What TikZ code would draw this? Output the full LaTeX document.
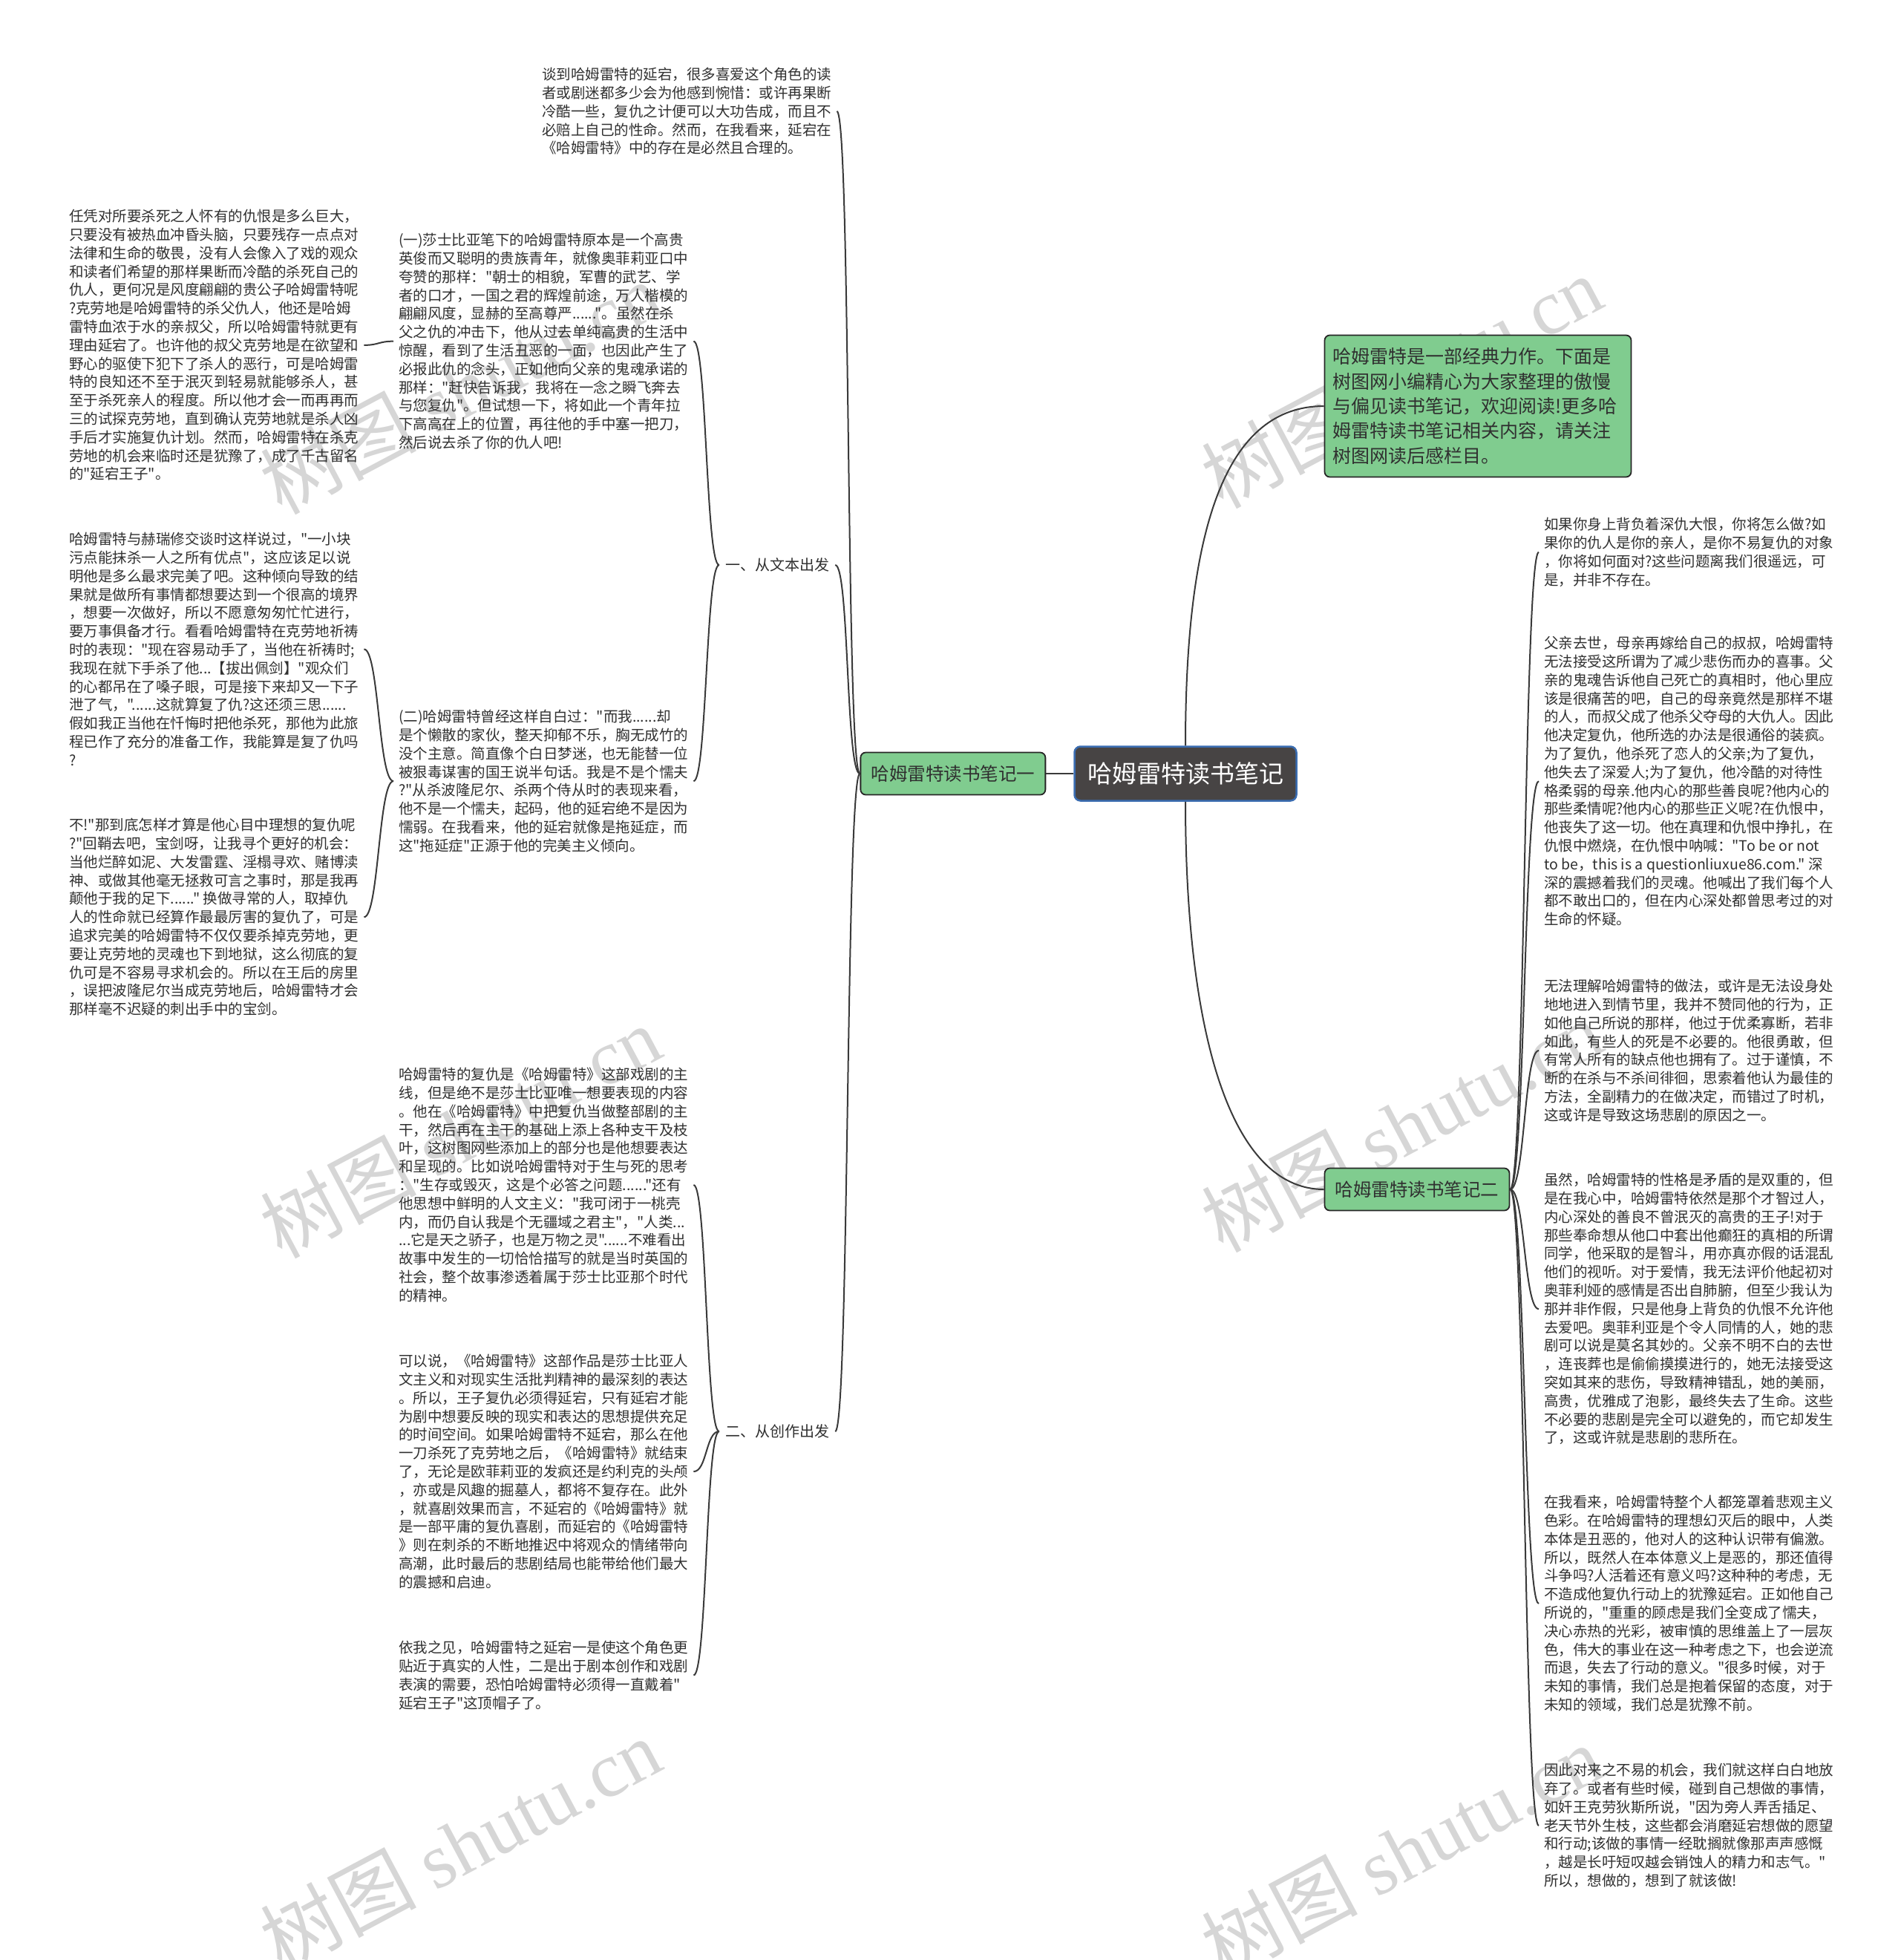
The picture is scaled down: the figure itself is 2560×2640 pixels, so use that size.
\documentclass[tikz,border=0pt]{standalone}
\usepackage{fontspec}
\setmainfont{Noto Sans CJK SC}
\newfontfamily\cjkfont{Noto Sans CJK SC}
\newfontfamily\wmserif{Liberation Serif}
\usetikzlibrary{positioning}

\definecolor{leafgreen}{RGB}{128,204,143}
\definecolor{rootgray}{RGB}{71,68,68}
\definecolor{rootblue}{RGB}{58,108,176}
\definecolor{inkgray}{RGB}{48,48,48}
\definecolor{linegray}{RGB}{58,58,58}
\definecolor{markgray}{RGB}{214,214,214}

\newcommand{\leaffont}{\cjkfont\fontsize{19.5pt}{24.8pt}\selectfont}

\begin{document}
\begin{tikzpicture}[x=1pt, y=-1pt,
  node distance=37pt,
  rootbox/.style={draw=rootblue, line width=2.5pt, fill=rootgray, rounded corners=8pt,
    text=white, minimum width=299pt, minimum height=73pt, font=\cjkfont\fontsize{33pt}{40pt}\selectfont},
  branch/.style={draw=black!85, line width=1.8pt, fill=leafgreen, rounded corners=7pt,
    text=inkgray, minimum width=249pt, minimum height=57pt, font=\cjkfont\fontsize{24.5pt}{30pt}\selectfont},
  introbox/.style={draw=black!85, line width=1.8pt, fill=leafgreen, rounded corners=7pt,
    text=inkgray, align=left, text width=391pt, inner xsep=11pt, minimum height=191pt,
    font=\cjkfont\fontsize{25pt}{33.3pt}\selectfont},
  leaf/.style={anchor=north west, align=left, inner xsep=7pt, inner ysep=0pt,
    text=inkgray, font=\leaffont},
  sublabel/.style={inner xsep=8pt, inner ysep=4pt, text=inkgray, font=\cjkfont\fontsize{20pt}{24pt}\selectfont},
  link/.style={draw=linegray, line width=2pt},
  wmark/.style={text=markgray, rotate=28, font=\cjkfont\fontsize{105pt}{110pt}\selectfont}
]
\useasboundingbox (0,0) rectangle (2560,2640);
\fill[white] (0,0) rectangle (2560,2640);

% Watermarks
\node[wmark] (wm1) at (620,522) {树图 {\wmserif shutu.cn}};
\node[wmark] (wm2) at (1888,514) {树图 {\wmserif shutu.cn}};
\node[wmark] (wm3) at (620,1524) {树图 {\wmserif shutu.cn}};
\node[wmark] (wm4) at (1888,1516) {树图 {\wmserif shutu.cn}};
\node[wmark] (wm5) at (620,2484) {树图 {\wmserif shutu.cn}};
\node[wmark] (wm6) at (1888,2493) {树图 {\wmserif shutu.cn}};

% Nodes
\node[rootbox] (root) at (1597,1042) {哈姆雷特读书笔记};
\node[branch, left=of root] (b1) {哈姆雷特读书笔记一};
\node[branch] (b2) at (1909,1602) {哈姆雷特读书笔记二};
\node[introbox] (intro) at (1991,547) {哈姆雷特是一部经典力作。下面是\\
树图网小编精心为大家整理的傲慢\\
与偏见读书笔记，欢迎阅读!更多哈\\
姆雷特读书笔记相关内容，请关注\\
树图网读后感栏目。};

\node[sublabel] (s1) at (1047,761) {一、从文本出发};
\node[sublabel] (s2) at (1047,1928) {二、从创作出发};

\node[leaf] (t0) at (723,91) {谈到哈姆雷特的延宕，很多喜爱这个角色的读\\
者或剧迷都多少会为他感到惋惜：或许再果断\\
冷酷一些，复仇之计便可以大功告成，而且不\\
必赔上自己的性命。然而，在我看来，延宕在\\
《哈姆雷特》中的存在是必然且合理的。};

\node[leaf] (m1) at (530,314) {(一)莎士比亚笔下的哈姆雷特原本是一个高贵\\
英俊而又聪明的贵族青年，就像奥菲莉亚口中\\
夸赞的那样："朝士的相貌，军曹的武艺、学\\
者的口才，一国之君的辉煌前途，万人楷模的\\
翩翩风度，显赫的至高尊严......"。虽然在杀\\
父之仇的冲击下，他从过去单纯高贵的生活中\\
惊醒，看到了生活丑恶的一面，也因此产生了\\
必报此仇的念头，正如他向父亲的鬼魂承诺的\\
那样："赶快告诉我，我将在一念之瞬飞奔去\\
与您复仇"。但试想一下，将如此一个青年拉\\
下高高在上的位置，再往他的手中塞一把刀，\\
然后说去杀了你的仇人吧!};

\node[leaf] (l1) at (86,282) {任凭对所要杀死之人怀有的仇恨是多么巨大，\\
只要没有被热血冲昏头脑，只要残存一点点对\\
法律和生命的敬畏，没有人会像入了戏的观众\\
和读者们希望的那样果断而冷酷的杀死自己的\\
仇人，更何况是风度翩翩的贵公子哈姆雷特呢\\
?克劳地是哈姆雷特的杀父仇人，他还是哈姆\\
雷特血浓于水的亲叔父，所以哈姆雷特就更有\\
理由延宕了。也许他的叔父克劳地是在欲望和\\
野心的驱使下犯下了杀人的恶行，可是哈姆雷\\
特的良知还不至于泯灭到轻易就能够杀人，甚\\
至于杀死亲人的程度。所以他才会一而再再而\\
三的试探克劳地，直到确认克劳地就是杀人凶\\
手后才实施复仇计划。然而，哈姆雷特在杀克\\
劳地的机会来临时还是犹豫了，成了千古留名\\
的"延宕王子"。};

\node[leaf] (m2) at (530,956) {(二)哈姆雷特曾经这样自白过："而我......却\\
是个懒散的家伙，整天抑郁不乐，胸无成竹的\\
没个主意。简直像个白日梦迷，也无能替一位\\
被狠毒谋害的国王说半句话。我是不是个懦夫\\
?"从杀波隆尼尔、杀两个侍从时的表现来看，\\
他不是一个懦夫，起码，他的延宕绝不是因为\\
懦弱。在我看来，他的延宕就像是拖延症，而\\
这"拖延症"正源于他的完美主义倾向。};

\node[leaf] (l2) at (86,717) {哈姆雷特与赫瑞修交谈时这样说过，"一小块\\
污点能抹杀一人之所有优点"，这应该足以说\\
明他是多么最求完美了吧。这种倾向导致的结\\
果就是做所有事情都想要达到一个很高的境界\\
，想要一次做好，所以不愿意匆匆忙忙进行，\\
要万事俱备才行。看看哈姆雷特在克劳地祈祷\\
时的表现："现在容易动手了，当他在祈祷时;\\
我现在就下手杀了他...【拔出佩剑】"观众们\\
的心都吊在了嗓子眼，可是接下来却又一下子\\
泄了气，"......这就算复了仇?这还须三思......\\
假如我正当他在忏悔时把他杀死，那他为此旅\\
程已作了充分的准备工作，我能算是复了仇吗\\
?};

\node[leaf] (l3) at (86,1102) {不!"那到底怎样才算是他心目中理想的复仇呢\\
?"回鞘去吧，宝剑呀，让我寻个更好的机会：\\
当他烂醉如泥、大发雷霆、淫榻寻欢、赌博渎\\
神、或做其他毫无拯救可言之事时，那是我再\\
颠他于我的足下......" 换做寻常的人，取掉仇\\
人的性命就已经算作最最厉害的复仇了，可是\\
追求完美的哈姆雷特不仅仅要杀掉克劳地，更\\
要让克劳地的灵魂也下到地狱，这么彻底的复\\
仇可是不容易寻求机会的。所以在王后的房里\\
，误把波隆尼尔当成克劳地后，哈姆雷特才会\\
那样毫不迟疑的刺出手中的宝剑。};

\node[leaf] (m3) at (530,1438) {哈姆雷特的复仇是《哈姆雷特》这部戏剧的主\\
线，但是绝不是莎士比亚唯一想要表现的内容\\
。他在《哈姆雷特》中把复仇当做整部剧的主\\
干，然后再在主干的基础上添上各种支干及枝\\
叶，这树图网些添加上的部分也是他想要表达\\
和呈现的。比如说哈姆雷特对于生与死的思考\\
："生存或毁灭，这是个必答之问题......"还有\\
他思想中鲜明的人文主义："我可闭于一桃壳\\
内，而仍自认我是个无疆域之君主"，"人类...\\
...它是天之骄子，也是万物之灵"......不难看出\\
故事中发生的一切恰恰描写的就是当时英国的\\
社会，整个故事渗透着属于莎士比亚那个时代\\
的精神。};

\node[leaf] (m4) at (530,1824) {可以说，《哈姆雷特》这部作品是莎士比亚人\\
文主义和对现实生活批判精神的最深刻的表达\\
。所以，王子复仇必须得延宕，只有延宕才能\\
为剧中想要反映的现实和表达的思想提供充足\\
的时间空间。如果哈姆雷特不延宕，那么在他\\
一刀杀死了克劳地之后，《哈姆雷特》就结束\\
了，无论是欧菲莉亚的发疯还是约利克的头颅\\
，亦或是风趣的掘墓人，都将不复存在。此外\\
，就喜剧效果而言，不延宕的《哈姆雷特》就\\
是一部平庸的复仇喜剧，而延宕的《哈姆雷特\\
》则在刺杀的不断地推迟中将观众的情绪带向\\
高潮，此时最后的悲剧结局也能带给他们最大\\
的震撼和启迪。};

\node[leaf] (m5) at (530,2210) {依我之见，哈姆雷特之延宕一是使这个角色更\\
贴近于真实的人性，二是出于剧本创作和戏剧\\
表演的需要，恐怕哈姆雷特必须得一直戴着"\\
延宕王子"这顶帽子了。};

\node[leaf] (r1) at (2073,697) {如果你身上背负着深仇大恨，你将怎么做?如\\
果你的仇人是你的亲人，是你不易复仇的对象\\
，你将如何面对?这些问题离我们很遥远，可\\
是，并非不存在。};

\node[leaf] (r2) at (2073,857) {父亲去世，母亲再嫁给自己的叔叔，哈姆雷特\\
无法接受这所谓为了减少悲伤而办的喜事。父\\
亲的鬼魂告诉他自己死亡的真相时，他心里应\\
该是很痛苦的吧，自己的母亲竟然是那样不堪\\
的人，而叔父成了他杀父夺母的大仇人。因此\\
他决定复仇，他所选的办法是很通俗的装疯。\\
为了复仇，他杀死了恋人的父亲;为了复仇，\\
他失去了深爱人;为了复仇，他冷酷的对待性\\
格柔弱的母亲.他内心的那些善良呢?他内心的\\
那些柔情呢?他内心的那些正义呢?在仇恨中，\\
他丧失了这一切。他在真理和仇恨中挣扎，在\\
仇恨中燃烧，在仇恨中呐喊："To be or not\\
to be，this is a questionliuxue86.com." 深\\
深的震撼着我们的灵魂。他喊出了我们每个人\\
都不敢出口的，但在内心深处都曾思考过的对\\
生命的怀疑。};

\node[leaf] (r3) at (2073,1319) {无法理解哈姆雷特的做法，或许是无法设身处\\
地地进入到情节里，我并不赞同他的行为，正\\
如他自己所说的那样，他过于优柔寡断，若非\\
如此，有些人的死是不必要的。他很勇敢，但\\
有常人所有的缺点他也拥有了。过于谨慎，不\\
断的在杀与不杀间徘徊，思索着他认为最佳的\\
方法，全副精力的在做决定，而错过了时机，\\
这或许是导致这场悲剧的原因之一。};

\node[leaf] (r4) at (2073,1580) {虽然，哈姆雷特的性格是矛盾的是双重的，但\\
是在我心中，哈姆雷特依然是那个才智过人，\\
内心深处的善良不曾泯灭的高贵的王子!对于\\
那些奉命想从他口中套出他癫狂的真相的所谓\\
同学，他采取的是智斗，用亦真亦假的话混乱\\
他们的视听。对于爱情，我无法评价他起初对\\
奥菲利娅的感情是否出自肺腑，但至少我认为\\
那并非作假，只是他身上背负的仇恨不允许他\\
去爱吧。奥菲利亚是个令人同情的人，她的悲\\
剧可以说是莫名其妙的。父亲不明不白的去世\\
，连丧葬也是偷偷摸摸进行的，她无法接受这\\
突如其来的悲伤，导致精神错乱，她的美丽，\\
高贵，优雅成了泡影，最终失去了生命。这些\\
不必要的悲剧是完全可以避免的，而它却发生\\
了，这或许就是悲剧的悲所在。};

\node[leaf] (r5) at (2073,2014) {在我看来，哈姆雷特整个人都笼罩着悲观主义\\
色彩。在哈姆雷特的理想幻灭后的眼中，人类\\
本体是丑恶的，他对人的这种认识带有偏激。\\
所以，既然人在本体意义上是恶的，那还值得\\
斗争吗?人活着还有意义吗?这种种的考虑，无\\
不造成他复仇行动上的犹豫延宕。正如他自己\\
所说的，"重重的顾虑是我们全变成了懦夫，\\
决心赤热的光彩，被审慎的思维盖上了一层灰\\
色，伟大的事业在这一种考虑之下，也会逆流\\
而退，失去了行动的意义。"很多时候，对于\\
未知的事情，我们总是抱着保留的态度，对于\\
未知的领域，我们总是犹豫不前。};

\node[leaf] (r6) at (2073,2375) {因此对来之不易的机会，我们就这样白白地放\\
弃了。或者有些时候，碰到自己想做的事情，\\
如奸王克劳狄斯所说，"因为旁人弄舌插足、\\
老天节外生枝，这些都会消磨延宕想做的愿望\\
和行动;该做的事情一经耽搁就像那声声感慨\\
，越是长吁短叹越会销蚀人的精力和志气。"\\
所以，想做的，想到了就该做!};

% Pointers
\draw[link] (root.west) -- (b1.east);
\draw[link] (root.north) .. controls +(0,-300) and +(-130,0) .. (intro.west);
\draw[link] (root.south) .. controls +(0,300) and +(-130,0) .. (b2.west);

\draw[link] (b1.west) .. controls +(-19,0) and +(19,0) .. (t0.east);
\draw[link] (b1.west) .. controls +(-19,0) and +(19,0) .. (s1.east);
\draw[link] (b1.west) .. controls +(-19,0) and +(19,0) .. (s2.east);

\draw[link] (s1.west) .. controls +(-18,0) and +(18,0) .. (m1.east);
\draw[link] (s1.west) .. controls +(-18,0) and +(18,0) .. (m2.east);
\draw[link] (m1.west) .. controls +(-20,0) and +(20,0) .. (l1.east);
\draw[link] (m2.west) .. controls +(-20,0) and +(20,0) .. (l2.east);
\draw[link] (m2.west) .. controls +(-20,0) and +(20,0) .. (l3.east);

\draw[link] (s2.west) .. controls +(-18,0) and +(18,0) .. (m3.east);
\draw[link] (s2.west) .. controls +(-18,0) and +(18,0) .. (m4.east);
\draw[link] (s2.west) .. controls +(-18,0) and +(18,0) .. (m5.east);

\foreach \r in {r1,r2,r3,r4,r5,r6}
  \draw[link] (b2.east) .. controls +(20,0) and +(-20,0) .. (\r.west);
\end{tikzpicture}
\end{document}
